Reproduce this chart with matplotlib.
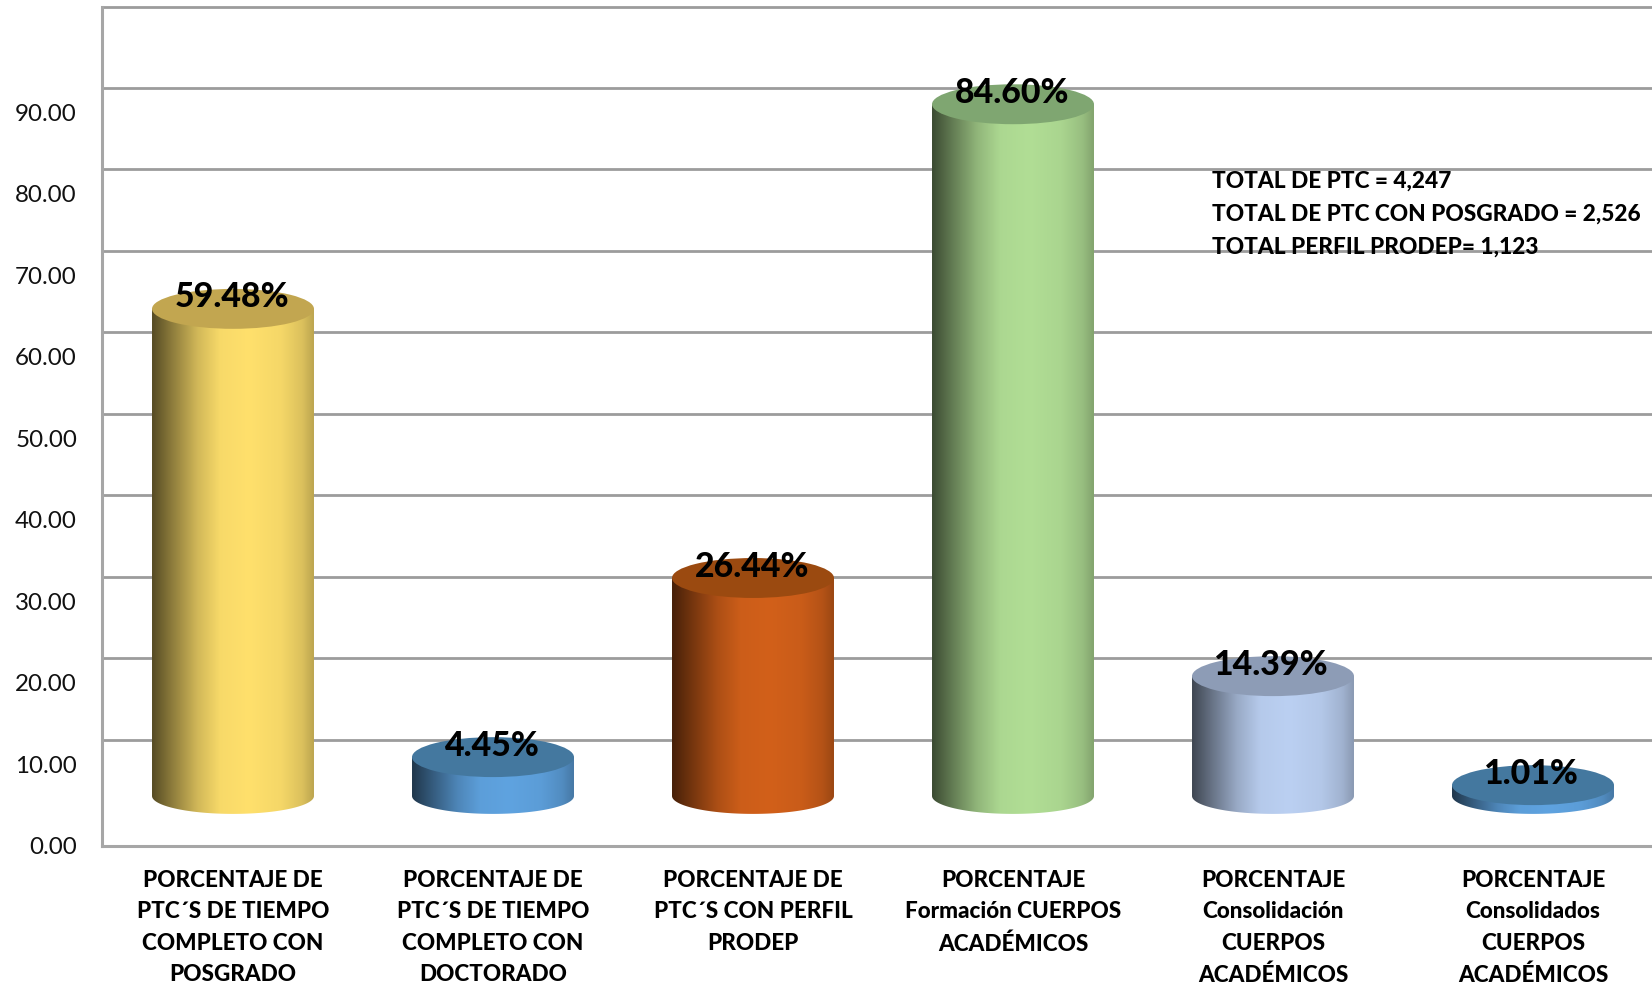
import numpy as np
import matplotlib
matplotlib.use("Agg")
import matplotlib.pyplot as plt
from matplotlib.colors import LinearSegmentedColormap, to_rgb
from matplotlib.patches import Ellipse, Polygon

# ---- data ----
categories = [
    "PORCENTAJE DE\nPTC´S DE TIEMPO\nCOMPLETO CON\nPOSGRADO",
    "PORCENTAJE DE\nPTC´S DE TIEMPO\nCOMPLETO CON\nDOCTORADO",
    "PORCENTAJE DE\nPTC´S CON PERFIL\nPRODEP",
    "PORCENTAJE\nFormación CUERPOS\nACADÉMICOS",
    "PORCENTAJE\nConsolidación\nCUERPOS\nACADÉMICOS",
    "PORCENTAJE\nConsolidados\nCUERPOS\nACADÉMICOS",
]
values = [59.48, 4.45, 26.44, 84.60, 14.39, 1.01]
value_labels = ["59.48%", "4.45%", "26.44%", "84.60%", "14.39%", "1.01%"]
y_ticks = [0, 10, 20, 30, 40, 50, 60, 70, 80, 90]
wall_levels = [10, 20, 30, 40, 50, 60, 70, 80, 90, 100]
note_lines = ["TOTAL DE PTC = 4,247",
              "TOTAL DE PTC CON POSGRADO = 2,526",
              "TOTAL PERFIL PRODEP= 1,123"]

# ---- styles ----
body_colors = ["#FFE06C", "#5FA3E0", "#D2601A", "#B1DE95", "#BBD0F2", "#5FA3E0"]
top_colors = ["#C2A650", "#44789F", "#9B4A10", "#7FA671", "#8D9CB6", "#44789F"]
GRID = "#9C9C9C"
FONT = "Lato"
HEAVY = 900
W, H = 1652, 990
AX_L, AX_R, AX_T, AX_B = 102, 1652, 6.5, 845.5
WALL_SHIFT = 3.0     # gridlines sit on the back wall
FLOOR = 6.08         # cylinder base centre above the front axis line
LIFT = 6.4           # cylinder top offset
HALF_W = 0.3115      # semi-axis in category units
TOP_SEMI = 2.45
BASE_SEMI = 2.2
LABEL_UP = 1.4


def gradient(color):
    c = np.array(to_rgb(color))
    stops = [(0.0, c * 0.34), (0.12, c * 0.55), (0.28, c * 0.82), (0.42, c * 0.97),
             (0.60, c), (0.80, c * 0.96), (0.93, c * 0.86), (1.0, c * 0.74)]
    return LinearSegmentedColormap.from_list("g", [(p, tuple(v)) for p, v in stops])


fig = plt.figure(figsize=(W / 100, H / 100), dpi=100, facecolor="white")
ax = fig.add_axes([AX_L / W, 1 - AX_B / H, (AX_R - AX_L) / W, (AX_B - AX_T) / H])
x = np.arange(len(values))
x_min, x_max = (AX_L - 233) / 260, (AX_R - 233) / 260
ax.set_xlim(x_min, x_max)
ax.set_ylim(0, 103)

ax.hlines([v + WALL_SHIFT for v in wall_levels], x_min, x_max, color=GRID, lw=2.0, zorder=1, clip_on=False)
for s in ("top", "right"):
    ax.spines[s].set_visible(False)
for s in ("left", "bottom"):
    ax.spines[s].set_color("#A6A6A6")
    ax.spines[s].set_linewidth(2.2)

ramp = np.linspace(0, 1, 400).reshape(1, -1)
t = np.linspace(np.pi, 2 * np.pi, 120)
for xi, v, body, top, lab in zip(x, values, body_colors, top_colors, value_labels):
    top_y = v + LIFT
    left, right = xi - HALF_W, xi + HALF_W
    arc_x = xi + HALF_W * np.cos(t)
    arc_y = FLOOR + BASE_SEMI * np.sin(t)
    outline = np.column_stack([np.r_[arc_x, right, left], np.r_[arc_y, top_y, top_y]])
    clip = Polygon(outline, closed=True, transform=ax.transData, fc="none", ec="none")
    ax.add_patch(clip)
    im = ax.imshow(ramp, extent=[left, right, FLOOR - BASE_SEMI, top_y], aspect="auto",
                   cmap=gradient(body), vmin=0, vmax=1, zorder=2, interpolation="bilinear")
    im.set_clip_path(clip)
    ax.add_patch(Ellipse((xi, top_y), 2 * HALF_W, 2 * TOP_SEMI, fc=top, ec="none", zorder=3))
    ax.text(xi - 0.005, top_y + LABEL_UP, lab, ha="center", va="center", fontsize=24.4,
            fontweight=HEAVY, family=FONT, color="black", zorder=5)

ax.set_xlim(x_min, x_max)
ax.set_ylim(0, 103)
ax.set_yticks(y_ticks)
ax.set_yticklabels([f"{v:.2f}" for v in y_ticks], family=FONT, fontsize=17.4, color="#111111")
ax.set_xticks(x)
ax.set_xticklabels(categories, family=FONT, fontsize=16.2, fontweight=HEAVY, color="black",
                   linespacing=1.62, va="top")
ax.tick_params(axis="y", length=0, pad=18)
ax.tick_params(axis="x", length=0, pad=17.5)

for i, line in enumerate(note_lines):
    fig.text(1212 / W, 1 - (181.5 + i * 33) / H, line, family=FONT, fontsize=16.3, fontweight=HEAVY,
             color="black", va="center", ha="left")

fig.savefig("out.png", dpi=100, facecolor="white")
